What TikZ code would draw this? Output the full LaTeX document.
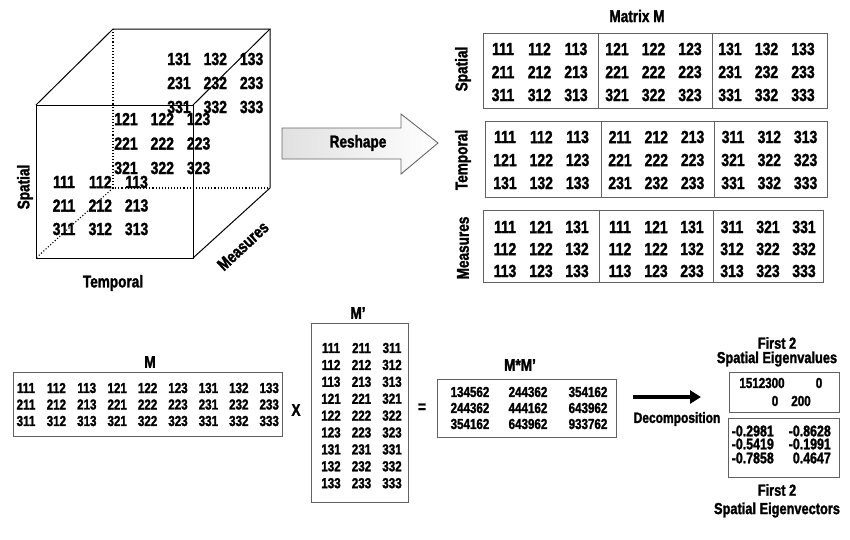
\documentclass[tikz,border=0pt]{standalone}
\usepackage{fontspec}
\setmainfont{Liberation Sans}[FakeStretch=0.8, BoldFeatures={FakeBold=1.6}]
\usetikzlibrary{arrows.meta}
\newcommand\fz[1]{\fontsize{#1}{#1}\selectfont\bfseries}
\newcommand\prm{{\char"27}}
\begin{document}
\begin{tikzpicture}[x=1pt,y=-1pt,
  num/.style={inner sep=0pt, font=\fz{17.5}},
  snum/.style={inner sep=0pt, font=\fz{14.5}},
  vnum/.style={inner sep=0pt, font=\fz{15.5}},
  lab/.style={inner sep=0pt, font=\fz{17}},
  ttl/.style={inner sep=0pt, font=\fz{17}},
  sttl/.style={inner sep=0pt, font=\fz{16}},
  mbox/.style={draw=black!62, line width=1pt, fill=white, inner sep=0pt, anchor=north west},
  divider/.style={draw=black!62, line width=1pt},
  cubeedge/.style={line width=1pt},
  hidden/.style={line width=1.1pt, dotted},
]
\useasboundingbox (0,0) rectangle (850,539);

% ---------------- cube ----------------
\coordinate (F1) at (36,105);
\coordinate (F2) at (193,105);
\coordinate (F3) at (193,258);
\coordinate (F4) at (36,258);
\coordinate (B1) at (113,29);
\coordinate (B2) at (270,29);
\coordinate (B3) at (270,188);
\coordinate (B4) at (113,188);

\foreach \k/\bx/\by/\dy in {1/64/182/23.5, 2/126/119/24.5, 3/179/59/24} {
  \foreach \r in {1,2,3} {
    \foreach \c in {1,2,3} {
      \node[num] (q\k\r\c) at ({\bx+(\c-1)*36.3},{\by+(\r-1)*\dy}) {\r\k\c};
    }
  }
}

\draw[cubeedge] (F1) -- (F2) -- (F3) -- (F4) -- cycle;
\draw[cubeedge] (F1) -- (B1) -- (B2) -- (F2);
\draw[cubeedge] (B2) -- (B3) -- (F3);
\draw[hidden] (B1) -- (B4) -- (B3);
\draw[hidden] (B4) -- (F4);

\node[lab, rotate=90] (cubeSp) at (25,187) {Spatial};
\node[lab] (cubeTe) at (113,283) {Temporal};
\node[lab, rotate=43] (cubeMe) at (243,246) {Measures};

% ---------------- reshape arrow ----------------
\coordinate (R1) at (282,128);
\coordinate (R2) at (401,128);
\coordinate (R3) at (401,114);
\coordinate (R4) at (438,143);
\coordinate (R5) at (401,174);
\coordinate (R6) at (401,159);
\coordinate (R7) at (282,159);
\draw[draw=black!60, line width=0.9pt, left color=black!12, right color=white]
  (R1) -- (R2) -- (R3) -- (R4) -- (R5) -- (R6) -- (R7) -- cycle;
\node[lab] (reshape) at (358,143) {Reshape};

% ---------------- Matrix M (three reshapes) ----------------
\node[ttl] (mtitle) at (637,16) {Matrix M};

\node[mbox, minimum width=344pt, minimum height=75pt] (spbox) at (483,33) {};
\draw[divider] (598,33) -- (598,108);
\draw[divider] (712,33) -- (712,108);
\foreach \g/\gx in {1/503,2/617,3/730} {
  \foreach \r/\yy in {1/49,2/72,3/95} {
    \foreach \c in {1,2,3} {
      \node[num] (s\g\r\c) at ({\gx+(\c-1)*36.5},\yy) {\r\g\c};
    }
  }
}

\node[mbox, minimum width=342pt, minimum height=76pt] (tebox) at (485,121) {};
\draw[divider] (601,121) -- (601,197);
\draw[divider] (714,121) -- (714,197);
\foreach \g/\gx in {1/505,2/620,3/733} {
  \foreach \r/\yy in {1/137,2/160,3/183} {
    \foreach \c in {1,2,3} {
      \node[num] (t\g\r\c) at ({\gx+(\c-1)*36.3},\yy) {\g\r\c};
    }
  }
}

\node[mbox, minimum width=340pt, minimum height=72pt] (mebox) at (483,210) {};
\draw[divider] (599,210) -- (599,282);
\draw[divider] (713,210) -- (713,282);
\foreach \g/\gx/\lead in {1/505/1,2/620/1,3/732/3} {
  \foreach \r/\yy in {1/227,2/249,3/271} {
    \foreach \c in {1,2,3} {
      \ifnum\g\c\r=233\relax
        \node[num] (m\g\r\c) at ({\gx+(\c-1)*36},\yy) {233};
      \else
        \node[num] (m\g\r\c) at ({\gx+(\c-1)*36},\yy) {\lead\c\r};
      \fi
    }
  }
}

\node[lab, rotate=90] (rSp) at (463,69) {Spatial};
\node[lab, rotate=90] (rTe) at (463,160) {Temporal};
\node[lab, rotate=90] (rMe) at (463,248) {Measures};

% ---------------- bottom: M ----------------
\node[ttl] (Mtitle) at (150,362) {M};
\node[mbox, minimum width=269pt, minimum height=64pt] (Mbox) at (13,372) {};
\foreach \r/\yy in {1/388,2/404.5,3/421} {
  \foreach \g in {1,2,3} {
    \foreach \c in {1,2,3} {
      \node[snum] (b\r\g\c) at ({26+((\g-1)*3+\c-1)*30.4},\yy) {\r\g\c};
    }
  }
}
\node[ttl] (times) at (296,410) {X};

% ---------------- M' ----------------
\node[ttl] (Mptitle) at (358,313) {M\prm};
\node[mbox, minimum width=97pt, minimum height=179pt] (Mpbox) at (311,323) {};
\foreach \g in {1,2,3} {
  \foreach \c in {1,2,3} {
    \foreach \r/\xx in {1/331,2/361.5,3/392} {
      \node[snum] (p\r\g\c) at (\xx,{348+((\g-1)*3+\c-1)*16.9}) {\r\g\c};
    }
  }
}
\node[ttl] (equals) at (422,408) {=};

% ---------------- M*M' ----------------
\node[ttl] (MMtitle) at (520,365) {M*M\prm};
\node[mbox, minimum width=179pt, minimum height=58pt] (MMbox) at (437,379) {};
\node[snum] (mm11) at (470,392) {134562};
\node[snum] (mm12) at (528,392) {244362};
\node[snum] (mm13) at (588,392) {354162};
\node[snum] (mm21) at (470,408) {244362};
\node[snum] (mm22) at (528,408) {444162};
\node[snum] (mm23) at (588,408) {643962};
\node[snum] (mm31) at (470,424) {354162};
\node[snum] (mm32) at (528,424) {643962};
\node[snum] (mm33) at (588,424) {933762};

% ---------------- decomposition ----------------
\coordinate (dA) at (633,397);
\coordinate (dB) at (701,397);
\draw[line width=3.5pt, -{Triangle[length=11pt,width=13pt]}] (dA) -- (dB);
\node[inner sep=0pt, font=\fz{15}] (decomp) at (677,419) {Decomposition};

\node[sttl] (ev1) at (777,343) {First 2};
\node[sttl] (ev2) at (777,359) {Spatial Eigenvalues};
\node[mbox, minimum width=110pt, minimum height=40pt] (evbox) at (729,372) {};
\node[snum] (e11) at (762,383) {1512300};
\node[snum] (e12) at (819,383) {0};
\node[snum] (e21) at (775,401) {0};
\node[snum] (e22) at (801,401) {200};

\node[mbox, minimum width=111pt, minimum height=59pt] (vecbox) at (728,418) {};
\node[vnum, anchor=east] (v11) at (774,431) {-0.2981};
\node[vnum, anchor=east] (v12) at (831,431) {-0.8628};
\node[vnum, anchor=east] (v21) at (774,444) {-0.5419};
\node[vnum, anchor=east] (v22) at (831,444) {-0.1991};
\node[vnum, anchor=east] (v31) at (774,458) {-0.7858};
\node[vnum, anchor=east] (v32) at (831,458) {0.4647};

\node[sttl] (vc1) at (777,490) {First 2};
\node[sttl] (vc2) at (777,510) {Spatial Eigenvectors};
\end{tikzpicture}
\end{document}
